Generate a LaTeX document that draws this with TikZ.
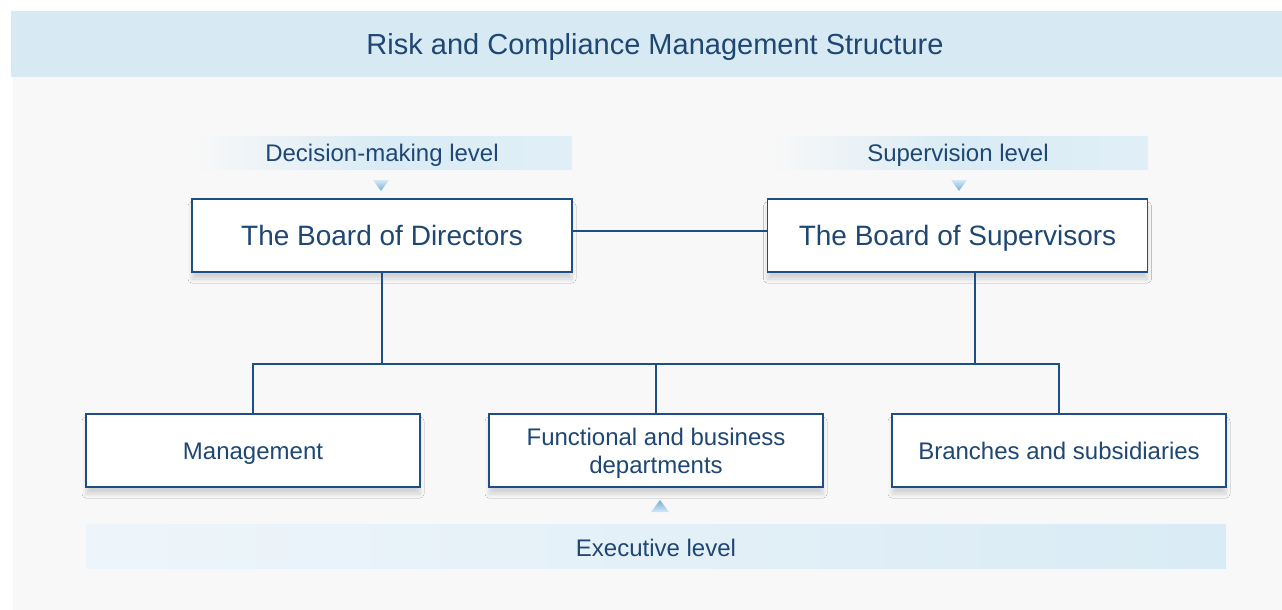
\documentclass[tikz,border=0pt]{standalone}
\usepackage{fontspec}
\setmainfont{Liberation Sans}
\usetikzlibrary{shadows.blur}
\definecolor{hdr}{HTML}{D7E9F3}
\definecolor{bodybg}{HTML}{F8F8F8}
\definecolor{txt}{HTML}{1F4773}
\definecolor{edge}{HTML}{1F4E86}
\definecolor{bandblue}{HTML}{D9EBF5}
\definecolor{bandlight}{HTML}{EEF5FA}
\definecolor{tri}{HTML}{72B0DA}
\definecolor{trilight}{HTML}{D5E8F4}
\tikzset{
  boxnode/.style={draw=edge, line width=1.3pt, fill=white, minimum width=380pt, minimum height=73pt, inner sep=0pt, text=txt, font=\fontsize{28}{32}\selectfont,
    text height=23pt, text depth=4pt,
    blur shadow={shadow xshift=0pt, shadow yshift=-7pt, shadow blur steps=8, shadow opacity=15, shadow blur radius=4pt}},
  lowbox/.style={boxnode, minimum width=334pt, font=\fontsize{24}{28}\selectfont, text height=20pt, text depth=3pt},
  multibox/.style={lowbox, align=center, text height=, text depth=},
  lvllabel/.style={text=txt, font=\fontsize{24}{28}\selectfont},
  conn/.style={draw=edge, line width=1.2pt}
}
\begin{document}
\begin{tikzpicture}[x=1pt,y=-1pt]
\useasboundingbox (0,0) rectangle (1282,610);
\fill[white] (0,0) rectangle (1282,610);
\fill[bodybg] (13,77) rectangle (1282,610);
\fill[hdr] (11,11) rectangle (1282,77);
\node[text=txt, font=\fontsize{29}{32}\selectfont] (title) at (655,47) {Risk and Compliance Management Structure};

% level bands
\shade[left color=bodybg, right color=bandblue!80, middle color=bandblue] (192,136) rectangle (572,169);
\shade[left color=bodybg, right color=bandblue!80, middle color=bandblue] (767,136) rectangle (1148,169);
\shade[left color=bandlight, right color=bandblue] (86,524) rectangle (1226,568);
\node[lvllabel] (declvl) at (382,155) {Decision-making level};
\node[lvllabel] (suplvl) at (958,155) {Supervision level};
\node[lvllabel] (exelvl) at (656,548) {Executive level};

% triangles
\shade[top color=trilight, bottom color=tri] (373,180) -- (389,180) -- (381,191) -- cycle;
\shade[top color=trilight, bottom color=tri] (951,180) -- (967,180) -- (959,191) -- cycle;
\shade[top color=tri, bottom color=trilight] (660,500) -- (669,512) -- (651,512) -- cycle;

% boxes
\node[boxnode] (bod) at (382,235.5) {The Board of Directors};
\node[boxnode] (bos) at (957.5,235.5) {The Board of Supervisors};
\node[lowbox] (mgmt) at (253,450.5) {Management};
\node[multibox] (func) at (656,450.5) {\rule{0pt}{23pt}Functional and business\\departments};
\node[lowbox] (br) at (1059,450.5) {Branches and subsidiaries};

% connectors
\coordinate (jl) at (382,364);
\coordinate (jr) at (975,364);
\draw[conn] (bod.east |- 0,231) -- (bos.west |- 0,231);
\draw[conn] (bod.south) -- (jl);
\draw[conn] (975,272) -- (jr);
\draw[conn] (mgmt.north) -- (253,364) -- (1059,364) -- (br.north);
\draw[conn] (func.north) -- (656,364);
\end{tikzpicture}
\end{document}
